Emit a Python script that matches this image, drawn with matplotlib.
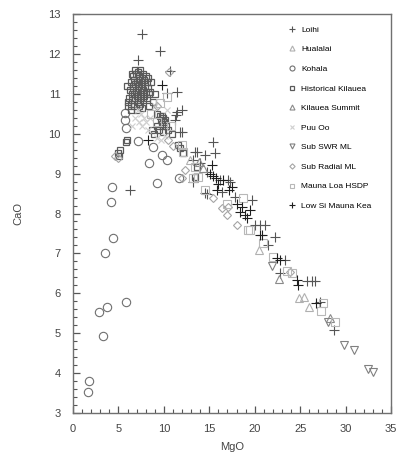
import matplotlib
matplotlib.use('Agg')
from matplotlib import pyplot as plt
from matplotlib.ticker import MultipleLocator

plt.rcParams['font.family'] = ['Liberation Sans', 'DejaVu Sans']

# MgO / CaO (wt%) for each suite
loihi_mgo = [7.55, 9.57, 7.19, 10.7, 11.4, 10.3, 11.96, 11.3, 11.2, 11.8, 11.4, 6.27, 12.0, 13.4, 14.5,
             15.6, 15.4, 13.6, 13.2, 13.98, 14.7, 13.2, 14.7, 14.5, 16.2, 17.1, 17.3, 16.4, 17.8, 19.7,
             20.0, 20.6, 21.1, 22.2, 21.5, 23.3, 25.7, 26.3, 26.6, 27.2, 28.7, 22.8]
loihi_cao = [12.5, 12.07, 11.85, 11.58, 11.05, 11.01, 10.59, 10.47, 10.34, 10.05, 10.55, 8.59, 10.05, 9.55, 9.47,
             9.51, 9.8, 9.55, 9.34, 9.26, 9.05, 8.8, 8.5, 8.51, 8.84, 8.84, 8.8, 8.55, 8.42, 8.34,
             7.71, 7.71, 7.71, 7.42, 7.21, 6.83, 6.32, 6.32, 6.32, 5.79, 5.08, 6.52]

hualalai_mgo = [20.5, 24.9, 25.4, 26.0, 12.9]
hualalai_cao = [7.08, 5.87, 5.91, 5.66, 9.35]

kohala_mgo = [1.69, 1.8, 3.27, 2.9, 3.71, 5.83, 3.56, 4.44, 4.18, 4.25, 5.72, 5.72, 5.8, 7.2, 8.77,
              8.33, 9.25, 9.76, 10.3, 11.7]
kohala_cao = [3.53, 3.81, 4.93, 5.54, 5.66, 5.79, 7.0, 7.38, 8.30, 8.67, 10.51, 10.34, 10.15, 9.82, 9.67,
              9.27, 8.77, 9.47, 9.34, 8.88]

hist_kil_mgo = [6.5, 6.8, 7.1, 7.4, 7.7, 8.0, 8.3, 8.6, 6.4, 6.7, 7.0, 7.3, 7.6, 7.9, 8.2, 8.5,
                6.3, 6.6, 6.9, 7.2, 7.5, 7.8, 8.1, 6.2, 6.5, 6.8, 7.1, 7.4, 6.0, 6.4, 7.0, 8.4,
                8.8, 9.0, 9.3, 9.6, 9.9, 10.1, 9.8, 10.2, 9.5, 9.9, 10.5, 10.9, 5.9, 5.85, 5.0,
                5.2, 5.1, 11.6, 11.8, 12.1, 13.6, 13.4, 8.7, 8.9, 9.2,
                6.65, 6.95, 7.25, 7.55, 7.85, 8.15, 6.55, 6.85, 7.15, 7.45, 7.75, 8.05, 8.35,
                6.45, 6.75, 7.05, 7.35, 7.65, 6.35, 6.7, 7.25, 7.6, 9.75, 10.05, 9.65, 6.1, 5.95]
hist_kil_cao = [11.5, 11.6, 11.55, 11.6, 11.5, 11.45, 11.4, 11.3, 11.3, 11.35, 11.3, 11.35, 11.25, 11.2, 11.15, 11.05,
                11.1, 11.15, 11.05, 11.1, 11.0, 10.95, 10.9, 10.9, 10.85, 10.9, 10.8, 10.75, 10.7, 10.6, 10.6, 10.7,
                10.8, 11.0, 10.5, 10.45, 10.4, 10.35, 10.25, 10.2, 10.1, 10.05, 10.09, 10.0, 9.85, 9.78, 9.51,
                9.59, 9.45, 9.72, 9.63, 9.51, 9.17, 8.92, 10.1, 10.0, 10.2,
                11.45, 11.5, 11.45, 11.4, 11.35, 11.3, 11.2, 11.25, 11.2, 11.15, 11.1, 11.05, 11.0,
                11.0, 11.0, 10.95, 10.9, 10.85, 10.75, 10.7, 10.7, 10.65, 10.45, 10.3, 10.35, 10.8, 11.2]

summit_mgo = [13.9, 14.3, 22.7, 28.3]
summit_cao = [9.3, 9.15, 6.35, 5.37]

puuoo_mgo = [7.5, 7.8, 7.6, 8.0, 8.3, 7.3, 9.3, 9.7, 10.1, 6.8, 7.2, 8.5, 6.5, 10.4, 9.0]
puuoo_cao = [10.5, 10.4, 10.2, 10.3, 10.1, 10.3, 9.9, 9.85, 9.95, 10.4, 10.6, 10.4, 10.2, 10.6, 10.7]

swr_mgo = [21.9, 28.1, 29.8, 30.9, 32.5, 33.0]
swr_cao = [6.68, 5.29, 4.70, 4.58, 4.10, 4.04]

radial_mgo = [12.3, 15.4, 16.4, 16.9, 18.0, 17.1, 23.9, 12.0, 4.6, 4.9, 10.6, 9.2, 10.5, 11.0]
radial_cao = [9.09, 8.38, 8.13, 7.96, 7.71, 8.17, 6.54, 8.88, 9.45, 9.38, 11.55, 10.7, 9.85, 9.7]

hsdp_mgo = [12.0, 12.1, 13.4, 14.5, 18.7, 19.5, 13.8, 16.9, 19.3, 20.9, 22.0, 23.5, 24.1, 27.5, 27.3,
            28.8, 13.2, 10.3, 9.6, 10.8, 8.6, 9.2]
hsdp_cao = [9.72, 9.55, 9.17, 8.59, 8.38, 7.59, 8.92, 8.25, 7.59, 7.25, 6.92, 6.56, 6.50, 5.75, 5.56,
            5.29, 8.88, 10.93, 10.77, 10.2, 10.5, 10.3]

lowsi_mgo = [9.76, 8.29, 18.0, 18.6, 18.4, 18.9, 19.1, 19.5, 15.1, 15.4, 15.7, 16.5, 15.8, 17.5, 20.6,
             22.4, 22.8, 24.6, 24.8, 26.8, 20.8, 15.3, 16.0, 17.2]
lowsi_cao = [11.22, 9.84, 8.25, 8.17, 8.05, 7.96, 7.88, 8.09, 9.0, 8.95, 8.9, 8.84, 8.59, 8.67, 7.46,
             6.88, 6.83, 6.33, 6.21, 5.75, 7.46, 9.22, 8.75, 8.6]

fig = plt.figure(figsize=(3.96, 4.61), dpi=100)
ax = fig.add_axes([73/396, 1 - 413/461, 318/396, 399/461])

def pts(x, y, label, marker, color, ms=5, mew=0.8):
    ax.plot(x, y, linestyle='none', marker=marker, ms=ms, mew=mew, mfc='none', mec=color,
            color=color, label=label)

pts(loihi_mgo, loihi_cao, 'Loihi', '+', '#555555', ms=7)
pts(hualalai_mgo, hualalai_cao, 'Hualalai', '^', '#b0b0b0', ms=6)
pts(kohala_mgo, kohala_cao, 'Kohala', 'o', '#707070', ms=6)
pts(hist_kil_mgo, hist_kil_cao, 'Historical Kilauea', 's', '#5a5a5a', ms=5, mew=0.9)
pts(summit_mgo, summit_cao, 'Kilauea Summit', '^', '#8a8a8a', ms=6)
pts(puuoo_mgo, puuoo_cao, 'Puu Oo', 'x', '#cfcfcf', ms=4)
pts(swr_mgo, swr_cao, 'Sub SWR ML', 'v', '#808080', ms=6)
pts(radial_mgo, radial_cao, 'Sub Radial ML', 'D', '#a5a5a5', ms=4.5)
pts(hsdp_mgo, hsdp_cao, 'Mauna Loa HSDP', 's', '#b8b8b8', ms=6)
pts(lowsi_mgo, lowsi_cao, 'Low Si Mauna Kea', '+', '#1e1e1e', ms=7)

ax.set_xlim(0, 35)
ax.set_ylim(3, 13)
ax.xaxis.set_major_locator(MultipleLocator(5))
ax.xaxis.set_minor_locator(MultipleLocator(1))
ax.yaxis.set_major_locator(MultipleLocator(1))
ax.yaxis.set_minor_locator(MultipleLocator(0.2))
ax.tick_params(which='both', direction='in', colors='#555555', labelcolor='#444444', labelsize=8)
ax.tick_params(which='major', length=5, width=0.9)
ax.tick_params(which='minor', length=3, width=0.8)
ax.tick_params(axis='y', pad=9)
ax.tick_params(axis='x', pad=8)
for s in ax.spines.values():
    s.set_color('#707070')
    s.set_linewidth(1.0)

ax.set_xlabel('MgO', fontsize=8, color='#444444', labelpad=6)
ax.set_ylabel('CaO', fontsize=8, color='#444444', labelpad=18)

ax.legend(loc='upper left', bbox_to_anchor=(288/396, 1 - 26/461), bbox_transform=fig.transFigure,
          frameon=False, fontsize=6, markerscale=0.6, handlelength=1.0, handletextpad=0.6,
          labelspacing=1.41, borderpad=0, borderaxespad=0)

fig.savefig('out.png', dpi=100)
